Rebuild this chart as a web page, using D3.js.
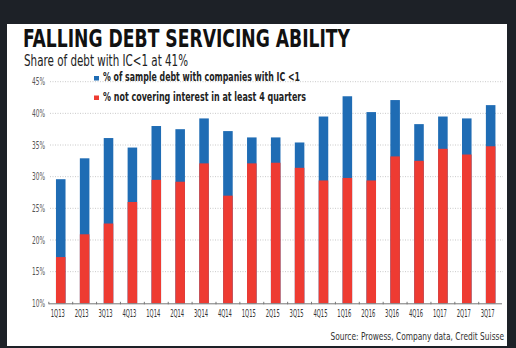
<!DOCTYPE html>
<html>
<head>
<meta charset="utf-8">
<script src="https://cdn.jsdelivr.net/npm/d3@7"></script>
<style>
  body { margin: 0; background: #1d2127; }
  text { font-family: "Liberation Sans Narrow", "DejaVu Sans Condensed", "Roboto", sans-serif; }
</style>
</head>
<body>
<div id="chart-area"></div>
<script>
// Data
var quarters = ["1Q13","2Q13","3Q13","4Q13","1Q14","2Q14","3Q14","4Q14","1Q15","2Q15",
                "3Q15","4Q15","1Q16","2Q16","3Q16","4Q16","1Q17","2Q17","3Q17"];
// % not covering interest in at least 4 quarters (red, bottom)
var notCovering = [17.3, 20.9, 22.6, 26.0, 29.5, 29.2, 32.1, 27.0, 32.1, 32.2,
                   31.4, 29.4, 29.8, 29.4, 33.2, 32.5, 34.4, 33.5, 34.8];
// % of sample debt with companies with IC<1 (total bar height)
var icBelowOne = [29.6, 32.9, 36.1, 34.6, 38.0, 37.5, 39.2, 37.2, 36.2, 36.2,
                  35.4, 39.5, 42.7, 40.2, 42.1, 38.3, 39.5, 39.2, 41.3];
var yTicks = [10, 15, 20, 25, 30, 35, 40, 45];
var legendLabels = ["% of sample debt with companies with IC <1",
                    "% not covering interest in at least 4 quarters"];

var W = 516, H = 348;
var blue = "#1f6cb4", red = "#ee3b32";
var narrow = "'Liberation Sans Narrow', 'DejaVu Sans Condensed', sans-serif";

var svg = d3.select("#chart-area").append("svg")
    .attr("width", W)
    .attr("height", H);

// white panel
svg.append("rect")
    .attr("x", 7).attr("y", 24)
    .attr("width", 500).attr("height", 322)
    .attr("fill", "#fff");

// Title + subtitle
svg.append("text")
    .attr("x", 23).attr("y", 47)
    .attr("font-size", 25)
    .attr("font-weight", "bold")
    .attr("fill", "#111")
    .attr("textLength", 327)
    .attr("lengthAdjust", "spacingAndGlyphs")
    .text("FALLING DEBT SERVICING ABILITY");

svg.append("text")
    .attr("x", 24).attr("y", 66)
    .attr("font-size", 15)
    .attr("fill", "#222")
    .attr("textLength", 164)
    .attr("lengthAdjust", "spacingAndGlyphs")
    .text("Share of debt with IC<1 at 41%");

// Scales
var x = d3.scaleBand().domain(quarters).range([48.8, 502.6]).paddingInner(0.6).paddingOuter(0.3);
var y = d3.scaleLinear().domain([10, 45]).range([303.3, 81.7]);

// Gridlines
svg.append("g")
    .selectAll("line")
    .data(yTicks.slice(1))
    .enter().append("line")
    .attr("x1", 50).attr("x2", 503)
    .attr("y1", function(d) { return y(d); })
    .attr("y2", function(d) { return y(d); })
    .attr("stroke", "#bbb")
    .attr("stroke-width", 0.8)
    .attr("stroke-dasharray", "1,1.5");

// Y axis labels
var yAxis = svg.append("g")
    .attr("transform", "translate(45,0)")
    .call(d3.axisLeft(y).tickValues(yTicks).tickSize(0).tickPadding(0)
        .tickFormat(function(d) { return d + "%"; }));
yAxis.select(".domain").remove();
yAxis.selectAll("text")
    .attr("font-size", 10)
    .attr("fill", "#555")
    .attr("textLength", 13)
    .attr("lengthAdjust", "spacingAndGlyphs")
    .style("font-family", narrow);

// Bars: blue total behind, red bottom on top
var bars = svg.append("g");
bars.selectAll(".blue")
    .data(quarters)
    .enter().append("rect")
    .attr("class", "blue")
    .attr("x", function(d) { return x(d); })
    .attr("width", x.bandwidth())
    .attr("y", function(d, i) { return y(icBelowOne[i]); })
    .attr("height", function(d, i) { return y(10) - y(icBelowOne[i]); })
    .attr("fill", blue);

bars.selectAll(".red")
    .data(quarters)
    .enter().append("rect")
    .attr("class", "red")
    .attr("x", function(d) { return x(d); })
    .attr("width", x.bandwidth())
    .attr("y", function(d, i) { return y(notCovering[i]); })
    .attr("height", function(d, i) { return y(10) - y(notCovering[i]); })
    .attr("fill", red);

// X axis
var xAxis = svg.append("g")
    .attr("transform", "translate(0," + y(10) + ")")
    .call(d3.axisBottom(x).tickSize(0).tickPadding(6));
xAxis.select(".domain")
    .attr("d", "M49,0.5H502")
    .attr("stroke", "#777");
xAxis.selectAll("text")
    .attr("font-size", 10.5)
    .attr("fill", "#333")
    .attr("dx", -3)
    .attr("textLength", 14)
    .attr("lengthAdjust", "spacingAndGlyphs")
    .style("font-family", narrow);

// small ticks between categories
xAxis.selectAll(".sep")
    .data(quarters)
    .enter().append("line")
    .attr("class", "sep")
    .attr("x1", function(d) { return x(d) - x.step() * x.paddingInner() / 2; })
    .attr("x2", function(d) { return x(d) - x.step() * x.paddingInner() / 2; })
    .attr("y1", -1.5).attr("y2", 1)
    .attr("stroke", "#777");

// Legend
var legend = svg.append("g");
legendLabels.forEach(function(lbl, i) {
    var ly = 78 + i * 19.5;
    legend.append("rect")
        .attr("x", 94).attr("y", ly - 2)
        .attr("width", 5).attr("height", 4.5)
        .attr("fill", i === 0 ? blue : red);
    legend.append("text")
        .attr("x", 103).attr("y", ly + 3.2)
        .attr("font-size", 12)
        .attr("font-weight", "bold")
        .attr("fill", "#222")
        .attr("textLength", i === 0 ? 197 : 203)
        .attr("lengthAdjust", "spacingAndGlyphs")
        .text(lbl);
});

// Source (small font stretched vertically so it keeps the narrow look)
svg.append("g")
    .attr("transform", "translate(504,340) scale(1,1.2)")
  .append("text")
    .attr("text-anchor", "end")
    .attr("font-size", 8.3)
    .attr("fill", "#333")
    .text("Source: Prowess, Company data, Credit Suisse");
</script>
</body>
</html>
